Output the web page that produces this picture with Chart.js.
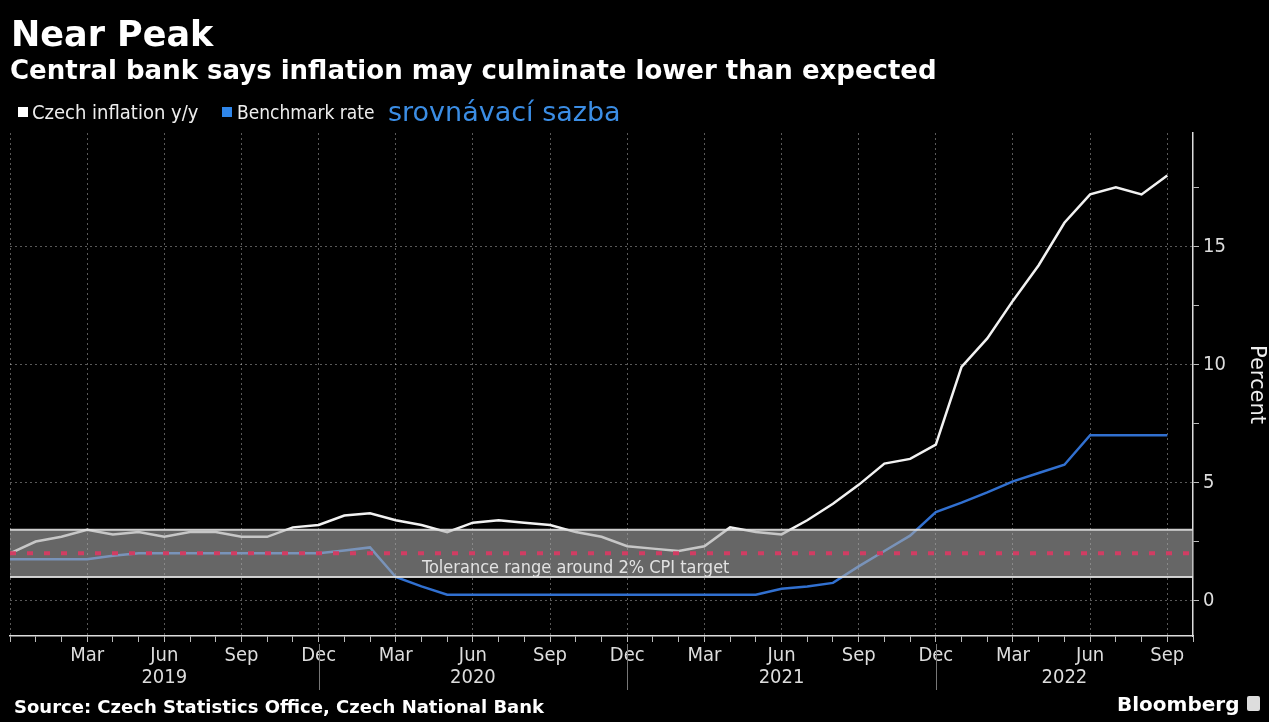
<!DOCTYPE html>
<html>
<head>
<meta charset="utf-8">
<script src="https://cdn.jsdelivr.net/npm/chart.js@4.4.0/dist/chart.umd.min.js"></script>
<style>
  body { margin: 0; background: #000; width: 1269px; height: 722px; overflow: hidden; position: relative; font-family: "DejaVu Sans", sans-serif; color: #fff; }
  #chart { position: absolute; left: 0; top: 0; }
  .t { position: absolute; white-space: nowrap; }
  #title { left: 11px; top: 17px; font-size: 35px; line-height: 35px; font-weight: bold; }
  #subtitle { left: 10px; top: 57px; font-size: 26px; line-height: 26px; font-weight: bold; }
  .legend { top: 102px; font-size: 20px; line-height: 20px; color: #eee; font-family: "DejaVu Sans Condensed", "DejaVu Sans", sans-serif; }
  .sq { position: absolute; width: 10px; height: 10px; top: 107px; }
  #note { left: 388px; top: 98px; font-size: 27px; line-height: 27px; color: #3b8de4; }
  #source { left: 14px; top: 698px; font-size: 18px; line-height: 18px; font-weight: bold; }
  #brand { left: 1117px; top: 694px; font-size: 20px; line-height: 20px; font-weight: bold; }
  #logo { position: absolute; left: 1247px; top: 696px; width: 13px; height: 15px; background: #ddd; border-radius: 2px; }
</style>
</head>
<body>
<canvas id="chart" width="1269" height="722"></canvas>
<div class="t" id="title">Near Peak</div>
<div class="t" id="subtitle">Central bank says inflation may culminate lower than expected</div>
<div class="sq" style="left:18px;background:#fff"></div>
<div class="t legend" style="left:32px">Czech inflation y/y</div>
<div class="sq" style="left:222px;background:#2f86ea"></div>
<div class="t legend" style="left:237px;font-size:19px">Benchmark rate</div>
<div class="t" id="note">srovnávací sazba</div>
<div class="t" id="source">Source: Czech Statistics Office, Czech National Bank</div>
<div class="t" id="brand">Bloomberg</div>
<div id="logo"></div>
<script>
const months = ['Jan', 'Feb', 'Mar', 'Apr', 'May', 'Jun', 'Jul', 'Aug', 'Sep', 'Oct', 'Nov', 'Dec'];
const startMonth = 11; // first point is Dec 2018
const tickMonths = ['Mar', 'Jun', 'Sep', 'Dec'];
const years = ['2019', '2020', '2021', '2022'];
const yTicks = [0, 5, 10, 15];

// Dec 2018 .. Sep 2022, monthly
const inflation = [2.0,
  2.5, 2.7, 3.0, 2.8, 2.9, 2.7, 2.9, 2.9, 2.7, 2.7, 3.1, 3.2,
  3.6, 3.7, 3.4, 3.2, 2.9, 3.3, 3.4, 3.3, 3.2, 2.9, 2.7, 2.3,
  2.2, 2.1, 2.3, 3.1, 2.9, 2.8, 3.4, 4.1, 4.9, 5.8, 6.0, 6.6,
  9.9, 11.1, 12.7, 14.2, 16.0, 17.2, 17.5, 17.2, 18.0];
const repoRate = [1.75,
  1.75, 1.75, 1.75, 1.9, 2.0, 2.0, 2.0, 2.0, 2.0, 2.0, 2.0, 2.0,
  2.12, 2.25, 1.0, 0.6, 0.25, 0.25, 0.25, 0.25, 0.25, 0.25, 0.25, 0.25,
  0.25, 0.25, 0.25, 0.25, 0.25, 0.5, 0.6, 0.75, 1.45, 2.1, 2.75, 3.75,
  4.15, 4.58, 5.05, 5.4, 5.75, 7.0, 7.0, 7.0, 7.0];

const toleranceLow = 1;
const toleranceHigh = 3;
const cpiTarget = 2;
const toleranceLabel = 'Tolerance range around 2% CPI target';

const condensed = '"DejaVu Sans Condensed", "DejaVu Sans", sans-serif';

function monthName(i) {
  return months[(startMonth + i) % 12];
}

const overlay = {
  id: 'overlay',
  afterDatasetsDraw(chart) {
    const { ctx, chartArea: a, scales: { x, y } } = chart;
    const yHi = y.getPixelForValue(toleranceHigh);
    const yLo = y.getPixelForValue(toleranceLow);
    const yT = y.getPixelForValue(cpiTarget);
    ctx.save();
    ctx.fillStyle = 'rgba(170,170,170,0.6)';
    ctx.fillRect(a.left, yHi, a.right - a.left, yLo - yHi);
    ctx.strokeStyle = 'rgba(225,225,225,0.9)';
    ctx.lineWidth = 2;
    ctx.beginPath();
    ctx.moveTo(a.left, yHi); ctx.lineTo(a.right, yHi);
    ctx.moveTo(a.left, yLo); ctx.lineTo(a.right, yLo);
    ctx.stroke();
    // 2% target
    ctx.strokeStyle = '#d13d63';
    ctx.lineWidth = 4;
    ctx.setLineDash([6, 11]);
    ctx.beginPath();
    ctx.moveTo(a.left, yT); ctx.lineTo(a.right, yT);
    ctx.stroke();
    ctx.setLineDash([]);
    ctx.fillStyle = '#e2e2e2';
    ctx.font = '18px ' + condensed;
    ctx.textAlign = 'center';
    ctx.textBaseline = 'middle';
    ctx.fillText(toleranceLabel, x.getPixelForValue(22), yLo - 9);
    ctx.restore();
  },
  afterDraw(chart) {
    const { ctx, scales: { x } } = chart;
    // year boundaries sit on each December
    const bounds = [0];
    for (let i = 1; i < inflation.length; i++) {
      if (monthName(i) === 'Dec') bounds.push(i);
    }
    bounds.push(x.max);
    ctx.save();
    ctx.strokeStyle = '#777';
    ctx.lineWidth = 1;
    for (let b = 1; b < bounds.length - 1; b++) {
      const px = Math.round(x.getPixelForValue(bounds[b])) + 0.5;
      ctx.beginPath();
      ctx.moveTo(px, x.top + 8);
      ctx.lineTo(px, x.top + 54);
      ctx.stroke();
    }
    ctx.fillStyle = '#ddd';
    ctx.font = '20px ' + condensed;
    ctx.textAlign = 'center';
    ctx.textBaseline = 'middle';
    years.forEach((yr, k) => {
      const mid = (bounds[k] + bounds[k + 1]) / 2;
      ctx.fillText(yr, x.getPixelForValue(mid), x.top + 42);
    });
    ctx.restore();
  }
};

const ctx = document.getElementById('chart').getContext('2d');
new Chart(ctx, {
  type: 'line',
  data: {
    datasets: [{
      label: 'Czech inflation y/y',
      data: inflation.map((v, i) => ({ x: i, y: v })),
      borderColor: '#f2f2f2',
      borderWidth: 2.5,
      pointRadius: 0
    }, {
      label: 'Benchmark rate',
      data: repoRate.map((v, i) => ({ x: i, y: v })),
      borderColor: '#3170d0',
      borderWidth: 2.5,
      pointRadius: 0
    }]
  },
  options: {
    responsive: false,
    animation: false,
    layout: { padding: { left: 10, top: 133, right: 0, bottom: 0 } },
    plugins: { legend: { display: false }, tooltip: { enabled: false } },
    scales: {
      x: {
        type: 'linear',
        min: 0,
        max: inflation.length,
        ticks: {
          stepSize: 1,
          autoSkip: false,
          maxRotation: 0,
          padding: 2,
          color: '#ddd',
          font: { family: condensed, size: 20 },
          callback: v => (v > 0 && tickMonths.includes(monthName(v))) ? monthName(v) : ''
        },
        grid: {
          color: c => (c.tick && tickMonths.includes(monthName(c.tick.value)) && c.tick.value < inflation.length) ? 'rgba(255,255,255,0.35)' : 'rgba(0,0,0,0)',
          tickColor: '#bbb',
          tickLength: 6
        },
        border: { color: '#ddd', width: 1.5, dash: [2, 3] },
        afterFit: s => { s.height = 86; }
      },
      y: {
        position: 'right',
        min: -1.5,
        max: 19.8,
        ticks: {
          stepSize: 2.5,
          includeBounds: false,
          padding: 4,
          color: '#ddd',
          font: { family: condensed, size: 20 },
          callback: v => yTicks.includes(v) ? String(v) : ''
        },
        grid: {
          color: c => (c.tick && yTicks.includes(c.tick.value)) ? 'rgba(255,255,255,0.35)' : 'rgba(0,0,0,0)',
          tickColor: '#bbb',
          tickLength: 6
        },
        border: { color: '#ddd', width: 1.5, dash: [2, 3] },
        title: { display: true, text: 'Percent', color: '#eee', font: { family: '"DejaVu Sans", sans-serif', size: 21 }, padding: 0 },
        afterFit: s => { s.width = 76; }
      }
    }
  },
  plugins: [overlay]
});
</script>
</body>
</html>
